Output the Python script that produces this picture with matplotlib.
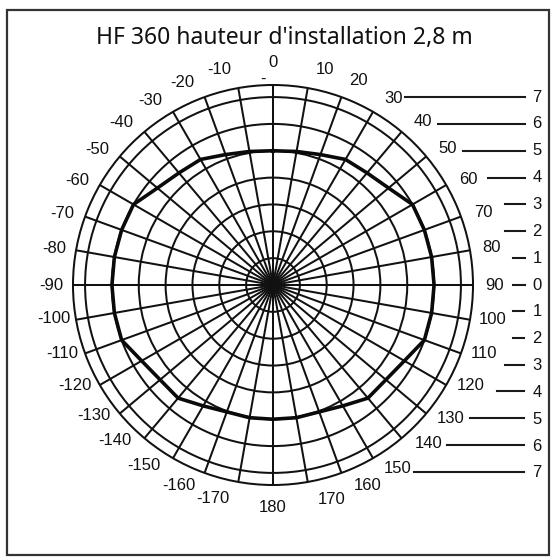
import numpy as np
import matplotlib
matplotlib.use("Agg")
import matplotlib.pyplot as plt
from matplotlib.patches import Rectangle

# ---------------- data ----------------
title = "HF 360 hauteur d'installation 2,8 m"
ring_radii = [1, 2, 3, 4, 5, 6, 7]          # metres
r_max = 7.45
spoke_angles = list(range(0, 360, 10))       # degrees
angle_labels = [0, 10, 20, 30, 40, 50, 60, 70, 80, 90, 100, 110, 120, 130, 140, 150, 160, 170, 180,
                -10, -20, -30, -40, -50, -60, -70, -80, -90, -100, -110, -120, -130, -140, -150,
                -160, -170]
# detection range (m) vs angle (deg, 0 = top, clockwise)
contour_angles = [0, 10, 20, 30, 40, 50, 60, 70, 80, 90, 100, 110, 120, 130, 140, 150, 160, 170,
                  180, 190, 200, 210, 220, 230, 240, 250, 260, 270, 280, 290, 300, 310, 320, 330,
                  340, 350, 360]
contour_range = [5.0, 5.05, 5.17, 5.4, 5.45, 5.62, 6.0, 6.0, 6.0, 6.0, 6.0, 6.0, 5.65, 5.49, 5.5,
                 5.2, 5.03, 5.02, 5.0, 5.02, 5.03, 5.2, 5.5, 5.49, 5.65, 6.0, 6.0, 6.0, 6.0, 6.0,
                 6.0, 5.62, 5.45, 5.4, 5.17, 5.05, 5.0]
scale_upper = [7, 6, 5, 4, 3, 2, 1, 0]
scale_lower = [1, 2, 3, 4, 5, 6, 7]

# ---------------- layout helpers (positions, not data) ----------------
label_angle = {0: 0, 10: 13.6, 20: 22.6, 30: 33, 40: 42.6, 50: 52, 60: 61.7, 70: 71, 80: 80.4,
               90: 90, 100: 99, 110: 108, 120: 117, 130: 127, 140: 135.5, 150: 145.7, 160: 154.8,
               170: 164.6, 180: 180, -10: -14, -20: -24, -30: -33.6, -40: -43, -50: -52.5,
               -60: -62, -70: -71.3, -80: -80.6, -90: -90, -100: -98.8, -110: -108, -120: -117,
               -130: -126, -140: -134.6, -150: -144.3, -160: -154.8, -170: -164.3}
upper_line_start = {7: 405, 6: 438, 5: 463, 4: 488, 3: 505, 2: 505, 1: 513, 0: 513}
lower_line_start = {1: 513, 2: 513, 3: 505, 4: 497, 5: 470, 6: 447, 7: 414}

W, H = 555, 560
fig = plt.figure(figsize=(W / 100, H / 100), dpi=100)
fig.patch.set_facecolor("white")

bg = fig.add_axes([0, 0, 1, 1])
bg.set_xlim(0, W)
bg.set_ylim(H, 0)
bg.axis("off")

bg.add_patch(Rectangle((7, 10), 542, 545, fill=False, lw=1.6, ec="#333333"))
bg.text(284, 38, title, ha="center", va="center", fontsize=16.5, family="Noto Sans", color="#111111")

cx, cy, R = 273, 285, 200
ax = fig.add_axes([(cx - R) / W, (H - (cy + R)) / H, 2 * R / W, 2 * R / H], projection="polar")
ax.set_theta_zero_location("N")
ax.set_theta_direction(-1)
ax.set_rlim(0, r_max)
ax.set_rticks(ring_radii)
ax.set_yticklabels([])
ax.set_thetagrids(spoke_angles, labels=[""] * len(spoke_angles))
ax.grid(True, color="#111111", lw=1.45)
ax.spines["polar"].set_linewidth(1.45)
ax.spines["polar"].set_color("#111111")
ax.tick_params(length=0)

ax.plot(np.deg2rad(contour_angles), contour_range, color="#0a0a0a", lw=2.6, zorder=5)

lab_font = dict(family="Liberation Sans", fontsize=12, color="#111111")
for a in angle_labels:
    ax.text(np.deg2rad(label_angle[a]), 8.27, f"{a}", ha="center", va="center",
            clip_on=False, **lab_font)

# stray dash near the top
bg.text(263, 79, "-", ha="center", va="center", **lab_font)

# right-hand distance scale
inv = bg.transData.inverted()
for k in scale_upper:
    _, y = inv.transform(ax.transData.transform((0, k)))
    bg.plot([upper_line_start[k], 525], [y, y], color="#1a1a1a", lw=1.5)
    bg.text(537, y, f"{k}", ha="center", va="center", **lab_font)
for k in scale_lower:
    _, y = inv.transform(ax.transData.transform((np.pi, k)))
    bg.plot([lower_line_start[k], 524], [y - 1, y - 1], color="#1a1a1a", lw=1.5)
    bg.text(537, y, f"{k}", ha="center", va="center", **lab_font)

fig.savefig("out.png", dpi=100, facecolor="white")
